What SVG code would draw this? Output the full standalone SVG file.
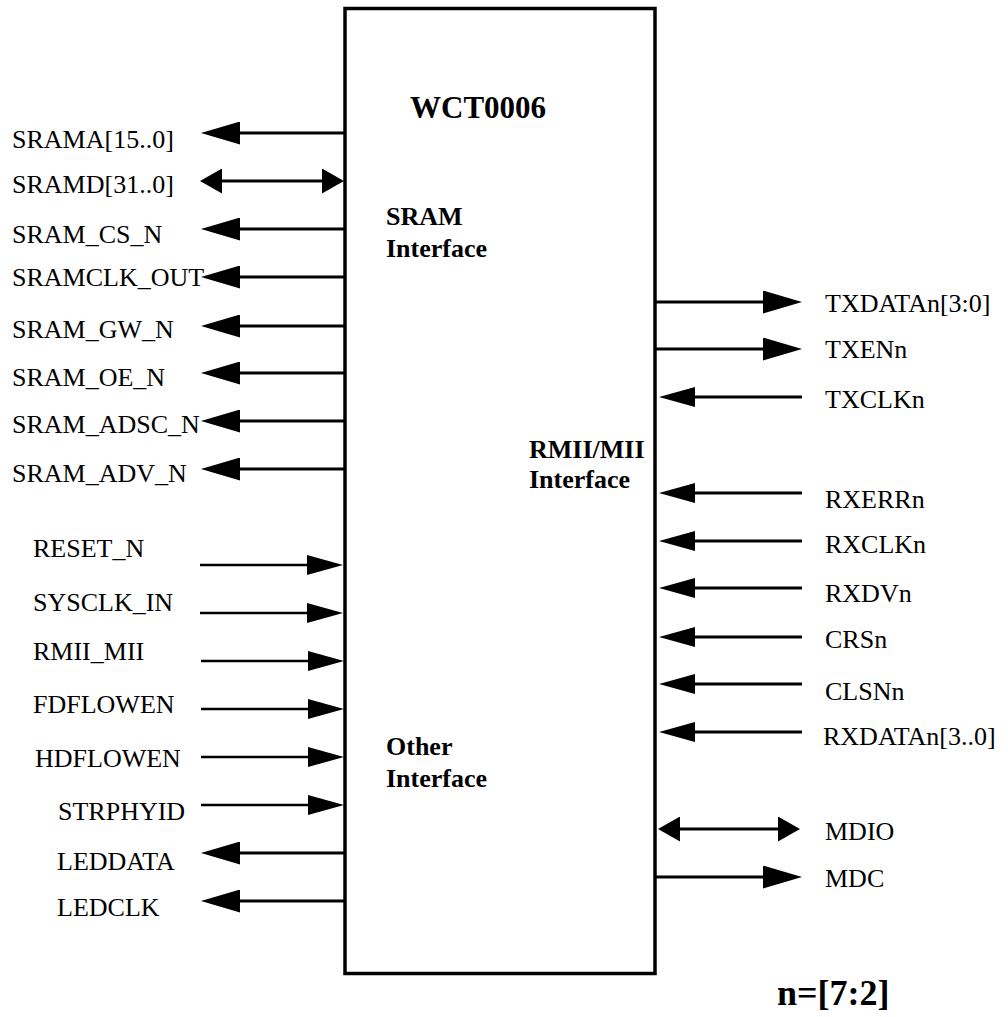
<svg xmlns="http://www.w3.org/2000/svg" width="1008" height="1017" viewBox="0 0 1008 1017">
<style>
.lbl{font-family:"Liberation Serif","Times New Roman",serif;font-size:26px;fill:#000}
.b{font-family:"Liberation Serif","Times New Roman",serif;font-weight:bold;fill:#000}
.w{stroke:#000;stroke-width:3;fill:none}
.wi{stroke:#000;stroke-width:2.6;fill:none}
.big{marker-end:url(#big)}
.in{marker-end:url(#inh)}
.dbl{marker-start:url(#short);marker-end:url(#short)}
</style>
<defs>
<marker id="big" markerUnits="userSpaceOnUse" viewBox="0 -11.5 39 23" markerWidth="39" markerHeight="23" refX="0" refY="0" orient="auto"><path d="M0,-11.5 L39,0 L0,11.5 z" fill="#000"/></marker>
<marker id="inh" markerUnits="userSpaceOnUse" viewBox="0 -10 36 20" markerWidth="36" markerHeight="20" refX="0" refY="0" orient="auto"><path d="M0,-10 L36,0 L0,10 z" fill="#000"/></marker>
<marker id="short" markerUnits="userSpaceOnUse" viewBox="0 -12.5 22 25" markerWidth="22" markerHeight="25" refX="0" refY="0" orient="auto-start-reverse"><path d="M0,-12.5 L22,0 L0,12.5 z" fill="#000"/></marker>
</defs>
<rect width="1008" height="1017" fill="#fff"/>
<g id="chip">
<rect x="345" y="8.5" width="310" height="965" fill="#fff" stroke="#000" stroke-width="3.5"/>
<text class="b" x="410" y="118" font-size="31">WCT0006</text>
<text class="b" x="386" y="225" font-size="26">SRAM</text>
<text class="b" x="386" y="257" font-size="26">Interface</text>
<text class="b" x="529" y="458" font-size="26">RMII/MII</text>
<text class="b" x="529" y="488" font-size="26">Interface</text>
<text class="b" x="386" y="755" font-size="26">Other</text>
<text class="b" x="386" y="787" font-size="26">Interface</text>
</g>
<g id="connectors">
<path class="w big" d="M345,133 H240"/>
<path class="w dbl" d="M222,181 H322"/>
<path class="w big" d="M345,229 H240"/>
<path class="w big" d="M345,277 H240"/>
<path class="w big" d="M345,326 H240"/>
<path class="w big" d="M345,373 H240"/>
<path class="w big" d="M345,421 H240"/>
<path class="w big" d="M345,469 H240"/>
<path class="wi in" d="M200,565 H307"/>
<path class="wi in" d="M200,613 H307"/>
<path class="wi in" d="M201,661 H308"/>
<path class="wi in" d="M201,709 H308"/>
<path class="wi in" d="M201,757 H308"/>
<path class="wi in" d="M201,805 H308"/>
<path class="w big" d="M345,853 H240"/>
<path class="w big" d="M345,901 H240"/>
<path class="w big" d="M655,302 H763"/>
<path class="w big" d="M655,349 H763"/>
<path class="w in" d="M802,397 H695"/>
<path class="w in" d="M802,493 H695"/>
<path class="w in" d="M802,541 H695"/>
<path class="w in" d="M802,588 H695"/>
<path class="w in" d="M802,637 H695"/>
<path class="w in" d="M802,684 H695"/>
<path class="w in" d="M802,732 H695"/>
<path class="w dbl" d="M680,829 H778"/>
<path class="w big" d="M655,877 H763"/>
</g>
<g id="left-labels">
<text class="lbl" x="12" y="148">SRAMA[15..0]</text>
<text class="lbl" x="12" y="193">SRAMD[31..0]</text>
<text class="lbl" x="12" y="243">SRAM_CS_N</text>
<text class="lbl" x="12" y="286">SRAMCLK_OUT</text>
<text class="lbl" x="12" y="338">SRAM_GW_N</text>
<text class="lbl" x="12" y="386">SRAM_OE_N</text>
<text class="lbl" x="12" y="433">SRAM_ADSC_N</text>
<text class="lbl" x="12" y="482">SRAM_ADV_N</text>
<text class="lbl" x="33" y="557">RESET_N</text>
<text class="lbl" x="33" y="611">SYSCLK_IN</text>
<text class="lbl" x="33" y="660">RMII_MII</text>
<text class="lbl" x="33" y="713">FDFLOWEN</text>
<text class="lbl" x="35" y="767">HDFLOWEN</text>
<text class="lbl" x="58" y="820">STRPHYID</text>
<text class="lbl" x="57" y="870">LEDDATA</text>
<text class="lbl" x="57" y="916">LEDCLK</text>
</g>
<g id="right-labels">
<text class="lbl" x="825" y="312">TXDATAn[3:0]</text>
<text class="lbl" x="825" y="358">TXENn</text>
<text class="lbl" x="825" y="408">TXCLKn</text>
<text class="lbl" x="825" y="508">RXERRn</text>
<text class="lbl" x="825" y="553">RXCLKn</text>
<text class="lbl" x="825" y="602">RXDVn</text>
<text class="lbl" x="825" y="648">CRSn</text>
<text class="lbl" x="825" y="700">CLSNn</text>
<text class="lbl" x="823" y="745">RXDATAn[3..0]</text>
<text class="lbl" x="825" y="840">MDIO</text>
<text class="lbl" x="825" y="887">MDC</text>
</g>
<g id="note">
<text class="b" x="777" y="1005" font-size="36">n=[7:2]</text>
</g>
</svg>
